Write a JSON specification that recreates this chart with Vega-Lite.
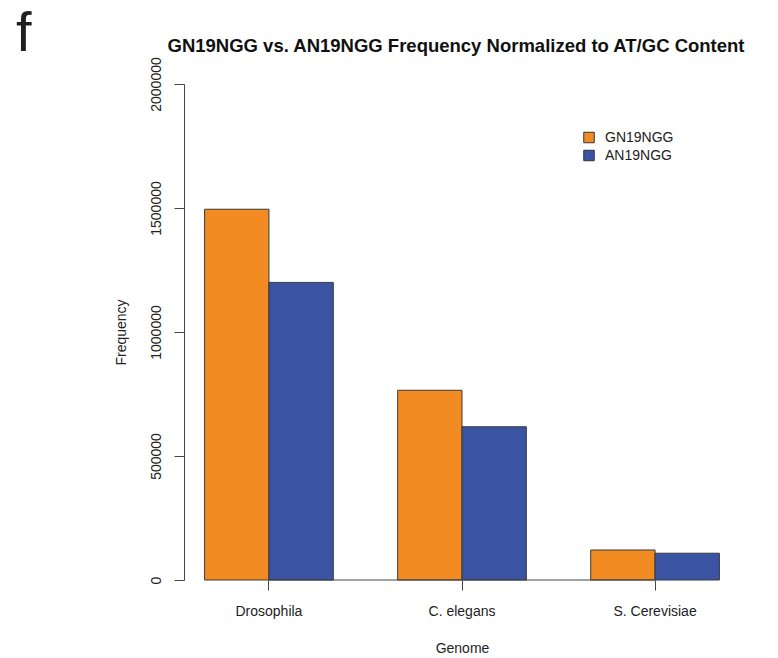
{
  "$schema": "https://vega.github.io/schema/vega-lite/v6.json",
  "background": "white",
  "padding": {"left": 16, "top": 6, "right": 5, "bottom": 5},
  "config": {"font": "Liberation Sans", "view": {"stroke": null}},
  "title": {"text": "f", "anchor": "start", "frame": "bounds", "fontSize": 56, "fontWeight": "normal", "color": "#231f20", "dx": -98, "offset": -26},
  "vconcat": [
    {
      "width": 556,
      "height": 496,
      "title": {"text": "GN19NGG vs. AN19NGG Frequency Normalized to AT/GC Content", "fontSize": 18.5, "fontWeight": "bold", "color": "#111", "offset": 1, "anchor": "middle", "dx": -6},
      "data": {
        "values": [
          {"Genome": "Drosophila", "Motif": "GN19NGG", "Frequency": 1495000},
          {"Genome": "Drosophila", "Motif": "AN19NGG", "Frequency": 1200000},
          {"Genome": "C. elegans", "Motif": "GN19NGG", "Frequency": 765000},
          {"Genome": "C. elegans", "Motif": "AN19NGG", "Frequency": 618000},
          {"Genome": "S. Cerevisiae", "Motif": "GN19NGG", "Frequency": 121000},
          {"Genome": "S. Cerevisiae", "Motif": "AN19NGG", "Frequency": 108000}
        ]
      },
      "layer": [
        {
          "mark": {"type": "bar", "stroke": "#3a3a3a", "strokeWidth": 1},
          "encoding": {
            "x": {
              "field": "Genome", "type": "nominal",
              "sort": ["Drosophila", "C. elegans", "S. Cerevisiae"],
              "scale": {"paddingInner": 0.3333, "paddingOuter": 0.1067},
              "axis": {"domain": false, "ticks": true, "tickSize": 10, "tickColor": "#444", "labelAngle": 0, "labelFontSize": 14, "labelColor": "#222", "labelPadding": 14, "title": "Genome", "titleFontSize": 14, "titleFontWeight": "normal", "titleColor": "#222", "titlePadding": 23}
            },
            "xOffset": {"field": "Motif", "type": "nominal", "sort": ["GN19NGG", "AN19NGG"], "scale": {"paddingInner": 0, "paddingOuter": 0}},
            "y": {
              "field": "Frequency", "type": "quantitative",
              "scale": {"domain": [0, 2000000], "nice": false},
              "axis": {"values": [0, 500000, 1000000, 1500000, 2000000], "format": "d", "grid": false, "domainColor": "#444", "tickColor": "#444", "tickSize": 10, "labelAngle": 270, "labelAlign": "center", "labelFontSize": 14, "labelColor": "#222", "labelPadding": 11, "title": "Frequency", "titleFontSize": 14, "titleFontWeight": "normal", "titleColor": "#222", "titlePadding": 21}
            },
            "color": {
              "field": "Motif", "type": "nominal",
              "scale": {"domain": ["GN19NGG", "AN19NGG"], "range": ["#F28C22", "#3A54A3"]},
              "legend": {"orient": "none", "legendX": 398, "legendY": 46.5, "title": null, "labelFontSize": 14, "labelColor": "#222", "symbolType": "square", "symbolSize": 110, "symbolStrokeColor": "#333", "symbolStrokeWidth": 1, "labelOffset": 9, "rowPadding": 2}
            }
          }
        },
        {
          "data": {"values": [{"baseline": 0}]},
          "mark": {"type": "rule", "color": "#444", "strokeWidth": 1},
          "encoding": {
            "x": {"datum": "Drosophila", "type": "nominal"},
            "x2": {"datum": "S. Cerevisiae"},
            "y": {"field": "baseline", "type": "quantitative"}
          }
        }
      ]
    }
  ]
}
